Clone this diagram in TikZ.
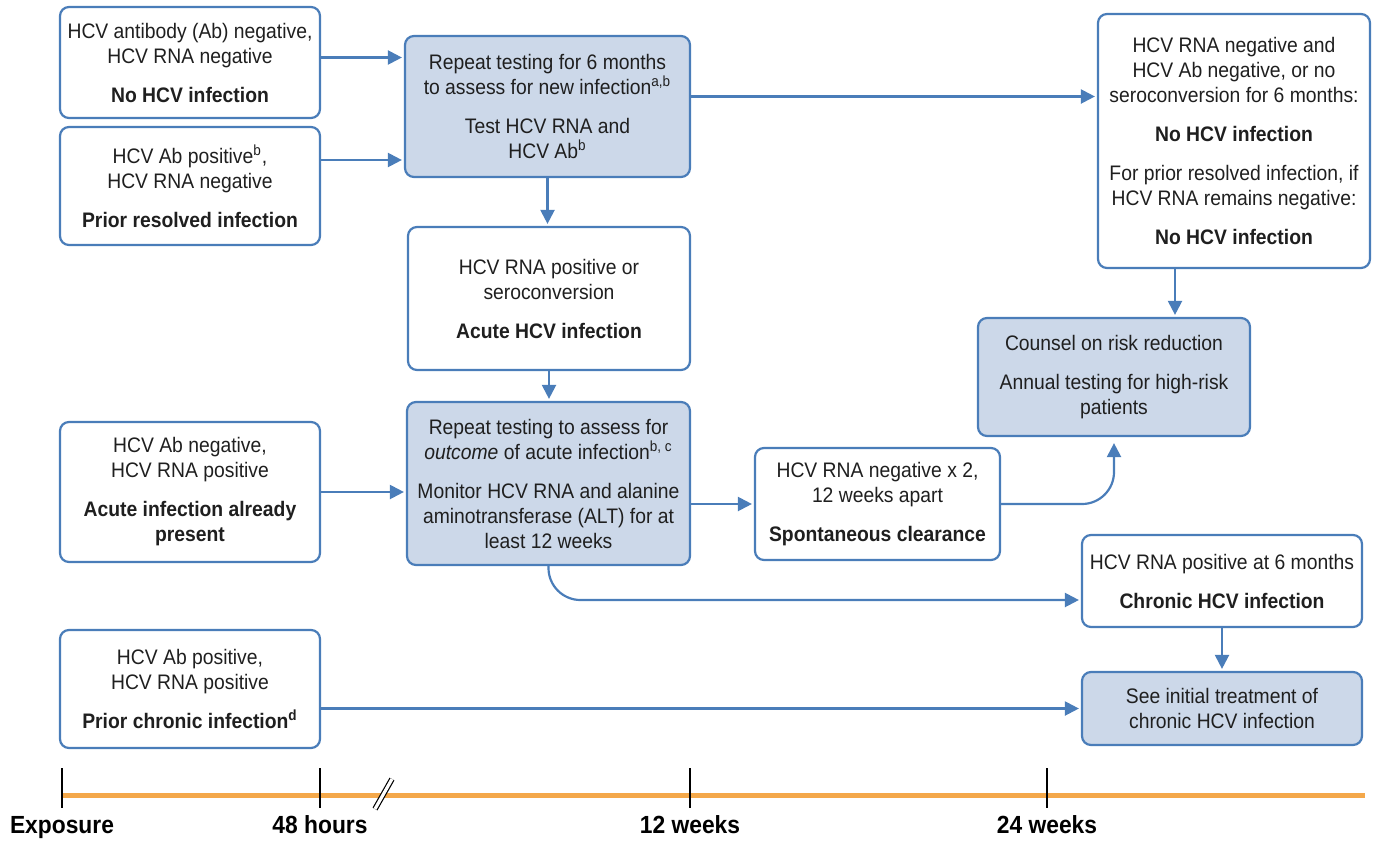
\documentclass[tikz,border=0pt]{standalone}
\usepackage{fontspec}
\setmainfont{Liberation Sans}[FakeStretch=0.92]
\usetikzlibrary{arrows.meta}

\definecolor{hcvblue}{RGB}{74,125,185}
\definecolor{hcvfill}{RGB}{204,216,233}
\definecolor{hcvorange}{RGB}{244,168,74}
\newcommand{\grpgap}{\\[7pt]}

\begin{document}
\begin{tikzpicture}[x=0.5pt, y=-0.5pt, >={Triangle[length=7pt,width=7pt]},
    plainbox/.style={draw=hcvblue, line width=1.1pt, rounded corners=4.5pt, fill=white,
        align=center, inner sep=0pt, text=black!88, font=\fontsize{10.5}{12.5}\selectfont},
    testbox/.style={plainbox, fill=hcvfill},
    flow/.style={->, color=hcvblue, line width=1.1pt, shorten >=1pt}]

    \useasboundingbox (0,0) rectangle (1375,841);

    % 1. 左列: 初始检测结果
    \node[plainbox, minimum width=130pt, minimum height=55.5pt] (noab) at (190,62.5)
        {HCV antibody (Ab) negative,\\HCV RNA negative\grpgap\textbf{No HCV infection}};
    \node[plainbox, minimum width=130pt, minimum height=59pt] (prior) at (190,186)
        {HCV Ab positive\textsuperscript{b},\\HCV RNA negative\grpgap\textbf{Prior resolved infection}};
    \node[plainbox, minimum width=130pt, minimum height=70pt] (alrpres) at (190,492)
        {HCV Ab negative,\\HCV RNA positive\grpgap\textbf{Acute infection already}\\\textbf{present}};
    \node[plainbox, minimum width=130pt, minimum height=59pt] (priorchr) at (190,689)
        {HCV Ab positive,\\HCV RNA positive\grpgap\textbf{Prior chronic infection\textsuperscript{d}}};

    % 2. 中列: 重复检测
    \node[testbox, minimum width=142.5pt, minimum height=70.5pt] (rep6) at (547.5,106.5)
        {Repeat testing for 6 months\\to assess for new infection\textsuperscript{a,b}\grpgap Test HCV RNA and\\HCV Ab\textsuperscript{b}};
    \node[plainbox, minimum width=141pt, minimum height=71.5pt] (acute) at (549,298.5)
        {HCV RNA positive or\\seroconversion\grpgap\textbf{Acute HCV infection}};
    \node[testbox, minimum width=141.5pt, minimum height=81.5pt] (outcome) at (548.5,483.5)
        {Repeat testing to assess for\\\textit{outcome} of acute infection\textsuperscript{b, c}\grpgap Monitor HCV RNA and alanine\\aminotransferase (ALT) for at\\least 12 weeks};
    \node[plainbox, minimum width=122.5pt, minimum height=56pt] (spont) at (877.5,504)
        {HCV RNA negative x 2,\\12 weeks apart\grpgap\textbf{Spontaneous clearance}};

    % 3. 右列: 结局
    \node[plainbox, minimum width=136pt, minimum height=127pt] (noinf) at (1234,141)
        {HCV RNA negative and\\HCV Ab negative, or no\\seroconversion for 6 months:\grpgap\textbf{No HCV infection}\grpgap For prior resolved infection, if\\HCV RNA remains negative:\grpgap\textbf{No HCV infection}};
    \node[testbox, minimum width=136pt, minimum height=59pt] (counsel) at (1114,377)
        {Counsel on risk reduction\grpgap Annual testing for high-risk\\patients};
    \node[plainbox, minimum width=140pt, minimum height=46pt] (chronic) at (1222,581)
        {HCV RNA positive at 6 months\grpgap\textbf{Chronic HCV infection}};
    \node[testbox, minimum width=140pt, minimum height=36.5pt] (seetreat) at (1222,708.5)
        {See initial treatment of\\chronic HCV infection};

    % 4. 箭头
    \draw[flow] ([yshift=2.5pt]noab.east) -- ([yshift=2.5pt]noab.east -| rep6.west);
    \draw[flow] ([yshift=13pt]prior.east) -- ([yshift=13pt]prior.east -| rep6.west);
    \draw[flow] ([yshift=5pt]rep6.east) -- ([yshift=5pt]rep6.east -| noinf.west);
    \draw[flow] (rep6.south) -- (rep6.south |- acute.north);
    \draw[flow] (acute.south) -- (acute.south |- outcome.north);
    \draw[flow] (alrpres.east) -- (alrpres.east -| outcome.west);
    \draw[flow] (spont.west -| outcome.east) -- (spont.west);
    \draw[flow, rounded corners=16pt] (spont.east) -| ([yshift=-2pt]counsel.south);
    \draw[flow, rounded corners=16pt] (outcome.south) |- ([yshift=-9.5pt]chronic.west);
    \draw[flow] ([xshift=-29.5pt]noinf.south) -- ([xshift=-29.5pt]noinf.south |- counsel.north);
    \draw[flow] (chronic.south) -- (seetreat.north);
    \draw[flow] (seetreat.west -| priorchr.east) -- (seetreat.west);

    % 5. 时间轴
    \draw[hcvorange, line width=2.5pt] (62,795) -- (1365,795);
    \draw[line width=0.6pt, double=white, double distance=1.6pt] (375,809) -- (392,779);
    \foreach \tx/\tlab in {62/Exposure, 320/48 hours, 690/12 weeks, 1047/24 weeks} {
        \draw[line width=1.2pt] (\tx,768) -- (\tx,808);
        \node[font=\bfseries\fontsize{12.4}{14}\selectfont, inner sep=0pt, anchor=base] (lab-\tx) at (\tx,833) {\tlab};
    }
\end{tikzpicture}
\end{document}
